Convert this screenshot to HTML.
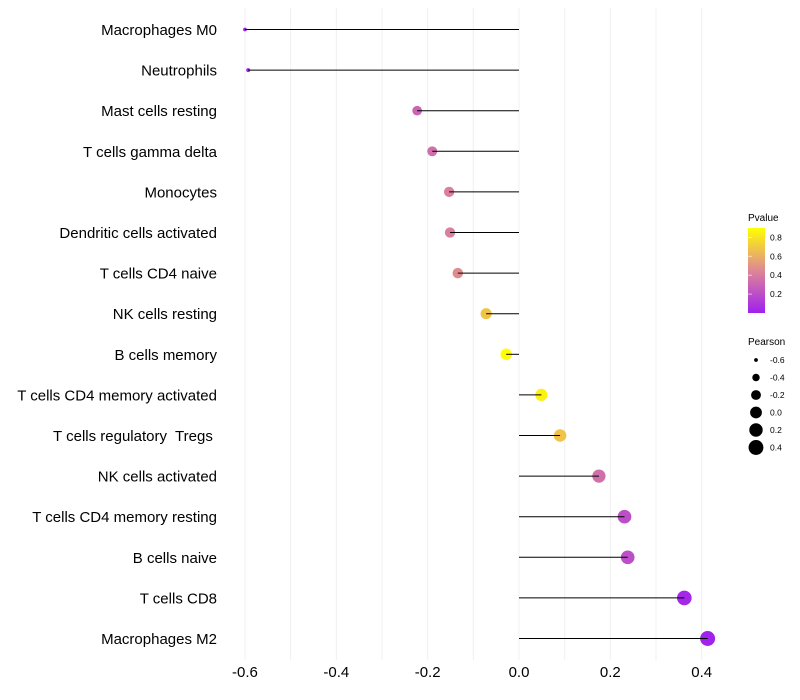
<!DOCTYPE html>
<html><head><meta charset="utf-8"><style>
body{margin:0;background:#fff;font-family:"Liberation Sans",sans-serif}
svg{display:block}
text{white-space:pre}
</style></head><body>
<svg id="c" width="800" height="700" xmlns="http://www.w3.org/2000/svg">
<defs><linearGradient id="pg" x1="0" y1="1" x2="0" y2="0">
<stop offset="0" stop-color="rgb(160,32,240)"/><stop offset="0.5" stop-color="rgb(222,135,150)"/><stop offset="1" stop-color="rgb(255,255,0)"/></linearGradient></defs>
<g id="grid"></g><g id="marks"></g><g id="labels"></g><g id="legend"></g>
</svg>
<script>
const categories=["Macrophages M0","Neutrophils","Mast cells resting","T cells gamma delta","Monocytes","Dendritic cells activated","T cells CD4 naive","NK cells resting","B cells memory","T cells CD4 memory activated","T cells regulatory  Tregs ","NK cells activated","T cells CD4 memory resting","B cells naive","T cells CD8","Macrophages M2"];
const pearson=[-0.600,-0.593,-0.223,-0.190,-0.153,-0.151,-0.134,-0.072,-0.028,0.049,0.090,0.175,0.231,0.238,0.362,0.413];
const pvalues=[0.0,0.01,0.3,0.35,0.42,0.42,0.47,0.68,0.9,0.85,0.68,0.35,0.2,0.2,0.03,0.01];
const xTicks=[-0.6,-0.4,-0.2,0.0,0.2,0.4];
const pTicks=[0.2,0.4,0.6,0.8];
const sizeTicks=[-0.6,-0.4,-0.2,0.0,0.2,0.4];
const NS="http://www.w3.org/2000/svg";
const x=v=>519+v*456.7;
const y=i=>29.5+i*40.6;
const rad=v=>Math.sqrt(3.5+(v+0.6)*52);
function col(p){let t=Math.max(0,Math.min(1,p/0.9));const s=[[160,32,240],[222,135,150],[255,255,0]];let a,b,u;if(t<0.5){a=s[0];b=s[1];u=t/0.5}else{a=s[1];b=s[2];u=(t-0.5)/0.5}return`rgb(${a.map((c,k)=>Math.round(c+(b[k]-c)*u)).join(",")})`;}
function mk(tag,at,parent,txt){const e=document.createElementNS(NS,tag);for(const k in at)e.setAttribute(k,at[k]);if(txt!==undefined)e.textContent=txt;document.getElementById(parent).appendChild(e);return e;}
for(let v=-0.6;v<=0.41;v+=0.1){const g=mk("line",{x1:x(v),x2:x(v),y1:8,y2:660,stroke:"#f0f0f0","stroke-width":1},"grid");

}
xTicks.forEach(t=>{const e=mk("text",{x:x(t),y:677,"text-anchor":"middle","font-size":15,fill:"#000"},"labels",t.toFixed(1));

});
categories.forEach((c,i)=>{
const l=mk("text",{x:217,y:y(i)+5.5,"text-anchor":"end","font-size":15,fill:"#000"},"labels",c);


const p=mk("circle",{cx:x(pearson[i]),cy:y(i),r:rad(pearson[i]),fill:col(pvalues[i])},"marks");


const s=mk("line",{x1:x(0),x2:x(pearson[i]),y1:y(i),y2:y(i),stroke:"#000","stroke-width":1},"marks");


});
let t1=mk("text",{x:748,y:221,"font-size":10},"legend","Pvalue");


let cb=mk("rect",{x:748,y:228,width:17,height:85,fill:"url(#pg)"},"legend");


pTicks.forEach(p=>{const yy=313-p/0.9*85;
const e=mk("text",{x:770,y:yy+3,"font-size":8.5},"legend",p.toFixed(1));


const tk=mk("line",{x1:748,x2:752,y1:yy,y2:yy,stroke:"#fff","stroke-opacity":0.6},"legend");

});
let t2=mk("text",{x:748,y:345,"font-size":10},"legend","Pearson");


sizeTicks.forEach((v,i)=>{const yy=360+i*17.5;
const d=mk("circle",{cx:756,cy:yy,r:rad(v),fill:"#000"},"legend");


const e=mk("text",{x:770,y:yy+3,"font-size":8.5},"legend",v.toFixed(1));

});
</script>
</body></html>
